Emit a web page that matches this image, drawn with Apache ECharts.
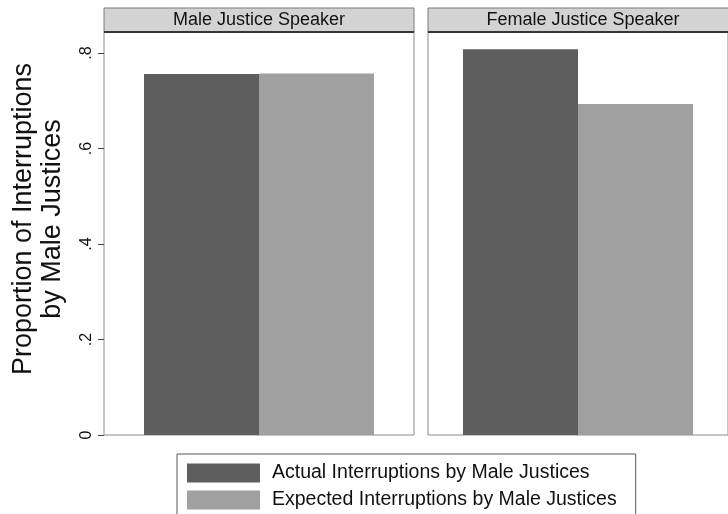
<!DOCTYPE html>
<html>
<head>
<meta charset="utf-8">
<script src="https://cdn.jsdelivr.net/npm/echarts@6/dist/echarts.min.js"></script>
<style>
  html, body { margin: 0; padding: 0; background: #fff; }
  #chart { width: 728px; height: 514px; }
</style>
</head>
<body>
<div id="chart"></div>
<script>
// data
var panels = ['Male Justice Speaker', 'Female Justice Speaker'];
var seriesNames = ['Actual Interruptions by Male Justices', 'Expected Interruptions by Male Justices'];
var actual = [0.756, 0.808];
var expected = [0.757, 0.693];
var yTicks = [0, 0.2, 0.4, 0.6, 0.8];

var FONT = 'Liberation Sans, Arial, sans-serif';
var DARK = '#5e5e5e', LIGHT = '#a0a0a0';

// panel layout
var gridTop = 32, gridH = 403, gridW = 310;
var gridLefts = [104, 428];

var myChart = echarts.init(document.getElementById('chart'));

var grids = [], xAxes = [], yAxes = [], series = [], graphics = [];
for (var i = 0; i < panels.length; i++) {
  grids.push({
    left: gridLefts[i], top: gridTop, width: gridW, height: gridH,
    show: true, borderColor: '#8c8c8c', borderWidth: 1, containLabel: false
  });
  xAxes.push({
    type: 'category', gridIndex: i, data: [panels[i]],
    axisLine: { show: false }, axisTick: { show: false }, axisLabel: { show: false }
  });
  yAxes.push({
    type: 'value', gridIndex: i, min: 0, max: 0.844,
    splitLine: { show: false },
    axisLine: { show: false },
    axisTick: { show: i === 0, length: 6, lineStyle: { color: '#444' }, customValues: yTicks },
    axisLabel: {
      show: i === 0, rotate: 90, margin: 9, fontSize: 16, fontFamily: FONT, color: '#111',
      customValues: yTicks,
      formatter: function (v) { return v === 0 ? '0' : String(+v.toFixed(1)).replace('0.', '.'); }
    }
  });
  series.push({
    name: seriesNames[0], type: 'bar', xAxisIndex: i, yAxisIndex: i,
    data: [actual[i]], barWidth: 115, barGap: '0%',
    itemStyle: { color: DARK }, silent: true
  });
  series.push({
    name: seriesNames[1], type: 'bar', xAxisIndex: i, yAxisIndex: i,
    data: [expected[i]], barWidth: 115, barGap: '0%',
    itemStyle: { color: LIGHT }, silent: true
  });
  // strip header above each panel
  graphics.push({
    type: 'group', x: gridLefts[i], y: 8, z: 10,
    children: [
      { type: 'rect', shape: { x: 0, y: 0, width: gridW, height: 24 },
        style: { fill: '#d3d3d3', stroke: '#7a7a7a', lineWidth: 1 } },
      { type: 'line', shape: { x1: 0, y1: 24, x2: gridW, y2: 24 },
        style: { stroke: '#111', lineWidth: 1.5 } },
      { type: 'text', x: gridW / 2, y: 12.5,
        style: { text: panels[i], fontSize: 18, fontFamily: FONT, fill: '#111',
                 align: 'center', verticalAlign: 'middle' } }
    ]
  });
}

// y axis title
graphics.push({
  type: 'text', x: 38, y: 219, rotation: Math.PI / 2, z: 10,
  style: {
    text: 'Proportion of Interruptions\nby Male Justices',
    fontSize: 27, lineHeight: 29, fontFamily: FONT, fill: '#111',
    align: 'center', verticalAlign: 'middle'
  }
});

myChart.setOption({
  animation: false,
  backgroundColor: '#fff',
  grid: grids,
  xAxis: xAxes,
  yAxis: yAxes,
  series: series,
  legend: {
    data: seriesNames, orient: 'vertical', left: 177, top: 454, height: 70,
    icon: 'rect', itemWidth: 73, itemHeight: 19, itemGap: 7,
    padding: [9, 19, 14, 10], borderColor: '#555', borderWidth: 1,
    selectedMode: false,
    textStyle: { fontSize: 19.5, fontFamily: FONT, color: '#111', padding: [0, 0, 0, 7] }
  },
  graphic: graphics
});
</script>
</body>
</html>
